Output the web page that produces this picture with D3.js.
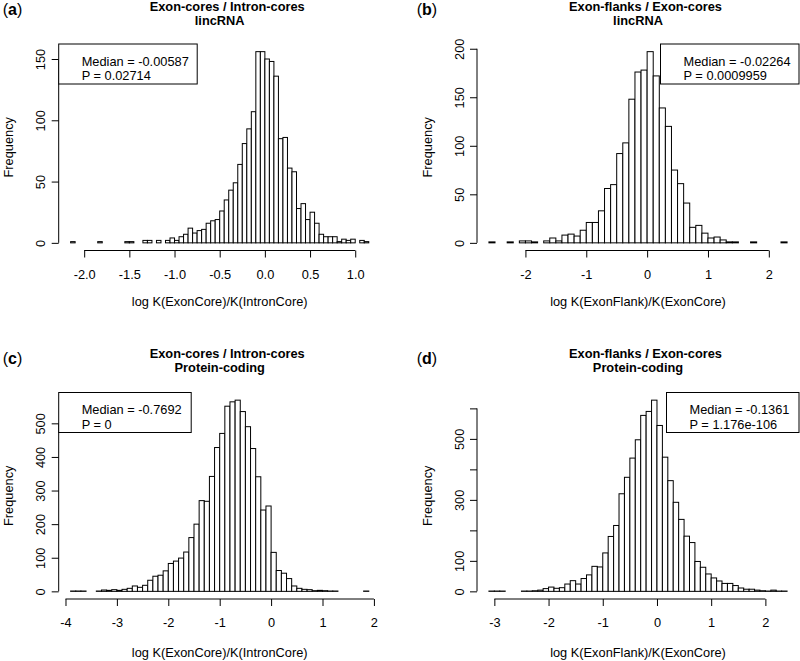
<!DOCTYPE html>
<html>
<head>
<meta charset="utf-8">
<script src="https://cdn.jsdelivr.net/npm/d3@7"></script>
<style>
  html, body { margin: 0; padding: 0; background: #fff; }
  svg { display: block; }
</style>
</head>
<body>
<svg id="chart" width="800" height="661"></svg>
<script>
// ---------------- DATA ----------------
// (a) Exon-cores / Intron-cores, lincRNA  (bins of 0.05 starting at -2.15)
const countsA = [1,0,0,0,0,0,1,0,0,0,0,0,1,1,0,0,2,2,0,2,0,2,4,2,5,7,12,8,10,11,
  16,18,19,26,35,43,49,64,81,93,107,156,156,150,148,136,85,86,61,58,28,32,19,25,16,
  7,5,5,5,1,3,2,3,0,2,1];
const binStartA = -2.15, binWidthA = 0.05;
const xTicksA = [-2.0, -1.5, -1.0, -0.5, 0.0, 0.5, 1.0];
const xTickLabelsA = ["-2.0", "-1.5", "-1.0", "-0.5", "0.0", "0.5", "1.0"];
const yTicksA = [0, 50, 100, 150];
const yTickLabelsA = ["0", "50", "100", "150"];

// (b) Exon-flanks / Exon-cores, lincRNA (bins of 0.1 starting at -2.6)
const countsB = [1,0,0,1,0,2,2,1,0,2,5,2,8,9,7,13,21,21,33,56,60,92,103,148,176,178,
  197,172,139,120,75,61,41,16,18,10,5,6,3,1,1,0,0,1,0,0,0,0,1];
const binStartB = -2.6, binWidthB = 0.1;
const xTicksB = [-2, -1, 0, 1, 2];
const xTickLabelsB = ["-2", "-1", "0", "1", "2"];
const yTicksB = [0, 50, 100, 150, 200];
const yTickLabelsB = ["0", "50", "100", "150", "200"];

// (c) Exon-cores / Intron-cores, Protein-coding (bins of 0.1 starting at -3.9)
const countsC = [1,1,1,0,0,1,4,3,5,3,6,9,16,12,18,33,45,48,61,83,90,99,117,160,200,270,
  268,342,428,470,551,564,569,535,490,425,341,242,254,116,62,54,38,16,9,6,5,2,3,2,1,1,
  0,0,0,0,0,1];
const binStartC = -3.9, binWidthC = 0.1;
const xTicksC = [-4, -3, -2, -1, 0, 1, 2];
const xTickLabelsC = ["-4", "-3", "-2", "-1", "0", "1", "2"];
const yTicksC = [0, 100, 200, 300, 400, 500];
const yTickLabelsC = ["0", "100", "200", "300", "400", "500"];

// (d) Exon-flanks / Exon-cores, Protein-coding (bins of 0.1 starting at -3.1)
const countsD = [1,1,1,0,0,0,1,1,2,4,9,14,10,12,24,35,24,42,54,82,80,126,180,216,320,374,
  437,497,577,590,627,544,440,363,292,236,181,160,98,79,57,44,34,26,26,19,11,7,7,4,2,1,
  4,1,1];
const binStartD = -3.1, binWidthD = 0.1;
const xTicksD = [-3, -2, -1, 0, 1, 2];
const xTickLabelsD = ["-3", "-2", "-1", "0", "1", "2"];
const yTicksD = [0, 100, 200, 300, 400, 500, 600];
const yTickLabelsD = ["0", "100", "", "300", "", "500", ""];

const panelLetters = ["a", "b", "c", "d"];
const titles1 = ["Exon-cores / Intron-cores", "Exon-flanks / Exon-cores",
                 "Exon-cores / Intron-cores", "Exon-flanks / Exon-cores"];
const titles2 = ["lincRNA", "lincRNA", "Protein-coding", "Protein-coding"];
const xTitles = ["log K(ExonCore)/K(IntronCore)", "log K(ExonFlank)/K(ExonCore)",
                 "log K(ExonCore)/K(IntronCore)", "log K(ExonFlank)/K(ExonCore)"];
const medians = ["-0.00587", "-0.02264", "-0.7692", "-0.1361"];
const pValues = ["0.02714", "0.0009959", "0", "1.176e-106"];
const legendSide = ["left", "right", "left", "right"];

// ---------------- LAYOUT ----------------
const FONT = "'Liberation Sans', Arial, Helvetica, sans-serif";
const FS = 12.8;
const colLeft = [58.7, 477];
const rowTop = [44, 392.5];
const PW = 322, PH = 206.5;
const labelX = [2.7, 416.7];
const labelY = [15, 364];
const title1Y = [10.5, 357.7];
const title2Y = [25, 372.3];
const tickLabelOffset = 28;
const xTitleY = [305.5, 656.5];
const legendW = [138.5, 138.5, 132.5, 132.5];
const legendH = 40;

const svg = d3.select("#chart");
svg.append("rect").attr("width", 800).attr("height", 661).attr("fill", "#fff");

const panels = [
  {counts: countsA, start: binStartA, w: binWidthA, xt: xTicksA, xl: xTickLabelsA, yt: yTicksA, yl: yTickLabelsA},
  {counts: countsB, start: binStartB, w: binWidthB, xt: xTicksB, xl: xTickLabelsB, yt: yTicksB, yl: yTickLabelsB},
  {counts: countsC, start: binStartC, w: binWidthC, xt: xTicksC, xl: xTickLabelsC, yt: yTicksC, yl: yTickLabelsC},
  {counts: countsD, start: binStartD, w: binWidthD, xt: xTicksD, xl: xTickLabelsD, yt: yTicksD, yl: yTickLabelsD}
];

panels.forEach((p, k) => {
  const col = k % 2, row = Math.floor(k / 2);
  const left = colLeft[col], top = rowTop[row], bottom = top + PH, right = left + PW;
  const a = p.start, b = p.start + p.counts.length * p.w, r = b - a;
  const x = d3.scaleLinear().domain([a - 0.04 * r, b + 0.04 * r]).range([left, right]);
  const m = d3.max(p.counts);
  const y = d3.scaleLinear().domain([-0.04 * m, 1.04 * m]).range([bottom, top]);
  const g = svg.append("g");

  // bars
  const bins = p.counts.map((c, i) => ({x0: a + i * p.w, x1: a + (i + 1) * p.w, c}))
                       .filter(d => d.c > 0);
  g.append("g").selectAll("rect").data(bins).join("rect")
    .attr("x", d => x(d.x0)).attr("width", d => x(d.x1) - x(d.x0))
    .attr("y", d => y(d.c)).attr("height", d => y(0) - y(d.c))
    .attr("fill", "#fff").attr("stroke", "#000").attr("stroke-width", 1);

  // x axis
  const xa = g.append("g").attr("transform", `translate(0,${bottom})`)
    .call(d3.axisBottom(x).tickValues(p.xt).tickFormat((d, i) => p.xl[i])
          .tickSizeInner(7).tickSizeOuter(0));
  xa.select(".domain").attr("d", `M${x(p.xt[0])},0H${x(p.xt[p.xt.length - 1])}`);
  xa.selectAll("text").attr("y", tickLabelOffset).attr("dy", null)
    .attr("font-size", FS).attr("font-family", FONT).attr("fill", "#000");
  xa.attr("font-size", FS).attr("font-family", FONT);

  // y axis
  const ya = g.append("g").attr("transform", `translate(${left},0)`)
    .call(d3.axisLeft(y).tickValues(p.yt).tickFormat((d, i) => p.yl[i])
          .tickSizeInner(7).tickSizeOuter(0));
  ya.select(".domain").attr("d", `M0,${y(p.yt[0])}V${y(p.yt[p.yt.length - 1])}`);
  ya.selectAll("text").attr("transform", "rotate(-90)")
    .attr("x", 0).attr("y", -13.4).attr("dy", null)
    .attr("text-anchor", "middle")
    .attr("font-size", FS).attr("font-family", FONT).attr("fill", "#000");
  ya.attr("font-size", FS).attr("font-family", FONT);

  // axis titles
  g.append("text").attr("x", (left + right) / 2).attr("y", xTitleY[row])
    .attr("text-anchor", "middle").attr("font-size", FS).attr("font-family", FONT)
    .text(xTitles[k]);
  g.append("text")
    .attr("transform", `translate(${left - 45.5},${(top + bottom) / 2}) rotate(-90)`)
    .attr("text-anchor", "middle").attr("font-size", FS).attr("font-family", FONT)
    .text("Frequency");

  // main titles
  g.append("text").attr("x", (left + right) / 2 + 7.5).attr("y", title1Y[row])
    .attr("text-anchor", "middle").attr("font-size", FS).attr("font-weight", "bold")
    .attr("font-family", FONT).text(titles1[k]);
  g.append("text").attr("x", (left + right) / 2).attr("y", title2Y[row])
    .attr("text-anchor", "middle").attr("font-size", FS).attr("font-weight", "bold")
    .attr("font-family", FONT).text(titles2[k]);

  // panel letter
  const lt = g.append("text").attr("x", labelX[col]).attr("y", labelY[row])
    .attr("font-size", 16).attr("font-family", FONT);
  lt.append("tspan").text("(");
  lt.append("tspan").attr("font-weight", "bold").text(panelLetters[k]);
  lt.append("tspan").text(")");

  // legend
  const lw = legendW[k];
  const lx = legendSide[k] === "left" ? left : right - lw;
  g.append("rect").attr("x", lx).attr("y", top).attr("width", lw).attr("height", legendH)
    .attr("fill", "#fff").attr("stroke", "#000").attr("stroke-width", 1);
  g.append("text").attr("x", lx + 23).attr("y", top + 21.6)
    .attr("font-size", FS).attr("font-family", FONT).text("Median = " + medians[k]);
  g.append("text").attr("x", lx + 23).attr("y", top + 36.1)
    .attr("font-size", FS).attr("font-family", FONT).text("P = " + pValues[k]);
});
</script>
</body>
</html>
